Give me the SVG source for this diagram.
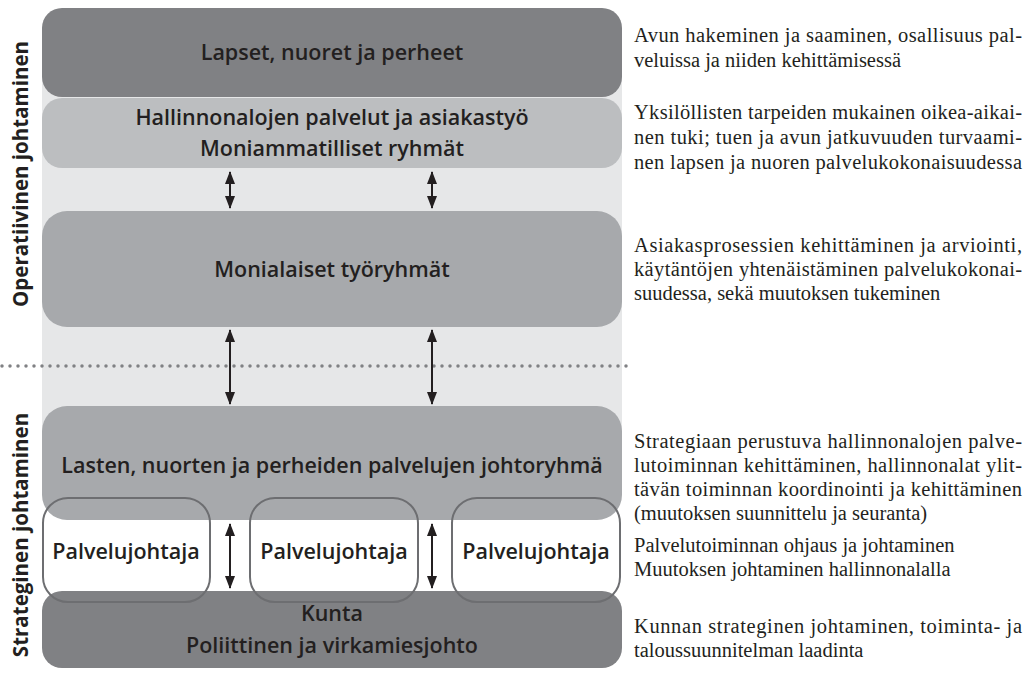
<svg xmlns="http://www.w3.org/2000/svg" width="1033" height="677" viewBox="0 0 1033 677">
<style>
.lbl{font-family:"Open Sans","Liberation Sans",sans-serif;font-weight:600;font-size:21.5px;fill:#231f20;text-anchor:middle}
.side{font-family:"Open Sans","Liberation Sans",sans-serif;font-weight:700;font-size:20.5px;fill:#231f20;text-anchor:middle}
.desc{font-family:"Liberation Serif","Times New Roman",serif;font-size:20.5px;fill:#231f20}
.conn{stroke:#231f20;stroke-width:2;fill:none;marker-start:url(#ah);marker-end:url(#ah)}
</style>
<defs>
<marker id="ah" viewBox="0 0 13 10" refX="12" refY="5" markerWidth="13" markerHeight="10" markerUnits="userSpaceOnUse" orient="auto-start-reverse">
<path d="M0,0 L13,5 L0,10 Z" fill="#231f20"/>
</marker>
</defs>
<rect id="bg" x="42" y="60" width="580" height="400" fill="#e6e7e8"/>
<g id="lapset">
<rect x="42" y="8" width="580" height="89" rx="20" fill="#808184"/>
<text class="lbl" x="332" y="60">Lapset, nuoret ja perheet</text>
</g>
<g id="hallinnon">
<rect x="42" y="98" width="580" height="70" rx="20" fill="#bcbec0"/>
<text class="lbl" x="332" y="125">Hallinnonalojen palvelut ja asiakastyö</text>
<text class="lbl" x="332" y="156">Moniammatilliset ryhmät</text>
</g>
<g id="monialaiset">
<rect x="42" y="211" width="580" height="116" rx="25" fill="#a7a9ac"/>
<text class="lbl" x="332" y="277">Monialaiset työryhmät</text>
</g>
<g id="lasten">
<rect x="42" y="406" width="580" height="114" rx="25" fill="#a7a9ac"/>
<text class="lbl" x="332" y="473">Lasten, nuorten ja perheiden palvelujen johtoryhmä</text>
</g>
<g id="kunta">
<rect x="42" y="591" width="580" height="77" rx="20" fill="#808184"/>
<text class="lbl" x="332" y="621">Kunta</text>
<text class="lbl" x="332" y="653">Poliittinen ja virkamiesjohto</text>
</g>
<g id="pj1">
<rect x="43" y="498" width="167" height="104" rx="25" fill="none" stroke="#6d6e71" stroke-width="2"/>
<text class="lbl" x="126" y="559">Palvelujohtaja</text>
</g>
<g id="pj2">
<rect x="250" y="498" width="168" height="104" rx="25" fill="none" stroke="#6d6e71" stroke-width="2"/>
<text class="lbl" x="334" y="559">Palvelujohtaja</text>
</g>
<g id="pj3">
<rect x="452" y="498" width="168" height="104" rx="25" fill="none" stroke="#6d6e71" stroke-width="2"/>
<text class="lbl" x="536" y="559">Palvelujohtaja</text>
</g>
<line id="divider" x1="2" y1="366" x2="632" y2="366" stroke="#808184" stroke-width="3.5" stroke-linecap="round" stroke-dasharray="0 8"/>
<g id="connectors">
<line class="conn" x1="230" y1="172" x2="230" y2="208"/>
<line class="conn" x1="432" y1="172" x2="432" y2="208"/>
<line class="conn" x1="230" y1="330" x2="230" y2="404"/>
<line class="conn" x1="432" y1="330" x2="432" y2="404"/>
<line class="conn" x1="230" y1="524" x2="230" y2="588"/>
<line class="conn" x1="432" y1="524" x2="432" y2="588"/>
</g>
<g id="side-labels">
<text class="side" transform="translate(28,174) rotate(-90)">Operatiivinen johtaminen</text>
<text class="side" transform="translate(28,535) rotate(-90)">Strateginen johtaminen</text>
</g>
<g id="descriptions" class="desc">
<text x="634" y="42" textLength="388" lengthAdjust="spacing">Avun hakeminen ja saaminen, osallisuus pal-</text>
<text x="634" y="67">veluissa ja niiden kehittämisessä</text>
<text x="634" y="119" textLength="388" lengthAdjust="spacing">Yksilöllisten tarpeiden mukainen oikea-aikai-</text>
<text x="634" y="144" textLength="388" lengthAdjust="spacing">nen tuki; tuen ja avun jatkuvuuden turvaami-</text>
<text x="634" y="169" textLength="388" lengthAdjust="spacing">nen lapsen ja nuoren palvelukokonaisuudessa</text>
<text x="634" y="252" textLength="388" lengthAdjust="spacing">Asiakasprosessien kehittäminen ja arviointi,</text>
<text x="634" y="276" textLength="388" lengthAdjust="spacing">käytäntöjen yhtenäistäminen palvelukokonai-</text>
<text x="634" y="300">suudessa, sekä muutoksen tukeminen</text>
<text x="634" y="448" textLength="388" lengthAdjust="spacing">Strategiaan perustuva hallinnonalojen palve-</text>
<text x="634" y="472" textLength="388" lengthAdjust="spacing">lutoiminnan kehittäminen, hallinnonalat ylit-</text>
<text x="634" y="496" textLength="388" lengthAdjust="spacing">tävän toiminnan koordinointi ja kehittäminen</text>
<text x="634" y="520">(muutoksen suunnittelu ja seuranta)</text>
<text x="634" y="552">Palvelutoiminnan ohjaus ja johtaminen</text>
<text x="634" y="576">Muutoksen johtaminen hallinnonalalla</text>
<text x="634" y="633" textLength="388" lengthAdjust="spacing">Kunnan strateginen johtaminen, toiminta- ja</text>
<text x="634" y="657">taloussuunnitelman laadinta</text>
</g>
</svg>
